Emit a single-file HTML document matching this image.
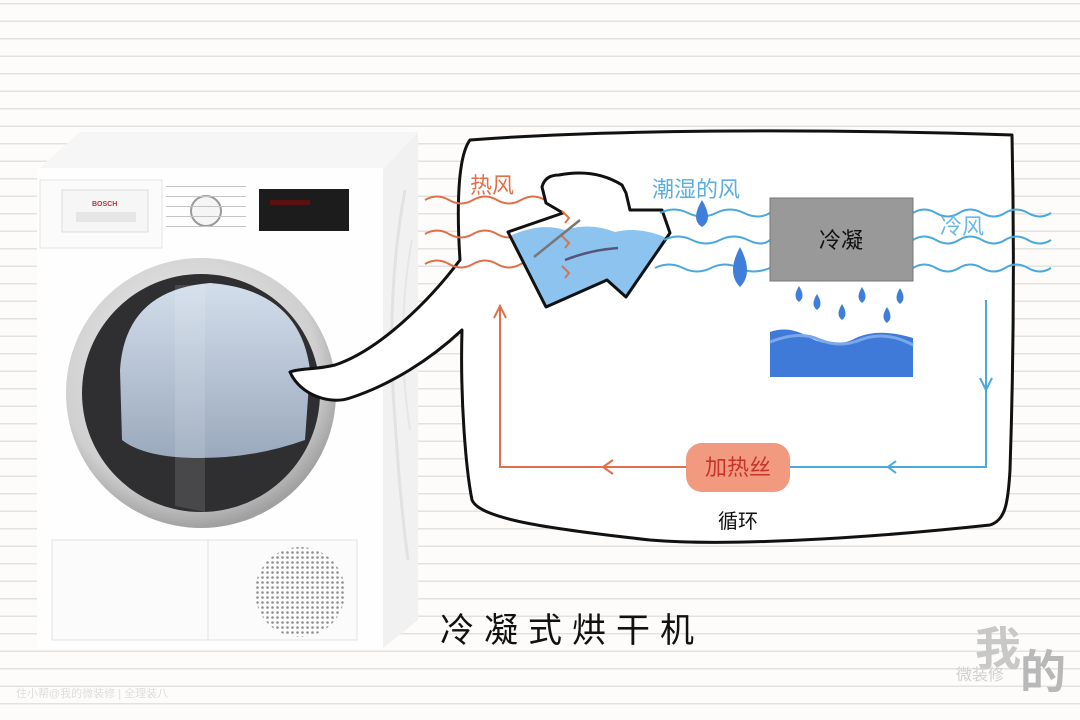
<!DOCTYPE html>
<html><head><meta charset="utf-8"><style>
html,body{margin:0;padding:0;width:1080px;height:720px;overflow:hidden;background:#fdfcfa}
svg{display:block}
text{font-family:"Liberation Sans","Noto Sans CJK SC",sans-serif}
</style></head><body>
<svg width="1080" height="720" viewBox="0 0 1080 720" xmlns="http://www.w3.org/2000/svg">
<defs>
<pattern id="ln" width="1080" height="17.5" patternUnits="userSpaceOnUse" y="3">
<rect width="1080" height="1.5" fill="#e2e2e0"/></pattern>
<radialGradient id="ring" cx="0.45" cy="0.4" r="0.6"><stop offset="0" stop-color="#f4f4f4"/><stop offset="0.8" stop-color="#cfcfcf"/><stop offset="1" stop-color="#a0a0a0"/></radialGradient>
<linearGradient id="glass" x1="0" y1="0" x2="0" y2="1"><stop offset="0" stop-color="#d3deec"/><stop offset="1" stop-color="#9aa9bc"/></linearGradient>
<pattern id="dots" width="5" height="5" patternUnits="userSpaceOnUse"><circle cx="2.5" cy="2.5" r="1.3" fill="#555"/></pattern>
</defs>
<rect width="1080" height="720" fill="url(#ln)"/>

<!-- machine -->
<polygon points="37,170 80,132 418,132 383,170" fill="#f6f6f6"/>
<polygon points="383,170 418,132 418,620 383,648" fill="#f1f1f1"/>
<path d="M405,190 Q385,300 395,420 Q400,500 408,560" stroke="#e2e2e2" stroke-width="3" fill="none"/>
<path d="M412,240 Q395,330 410,430" stroke="#e6e6e6" stroke-width="2" fill="none"/>
<rect x="37" y="168" width="346" height="480" fill="#fefefe"/>
<rect x="40" y="180" width="122" height="68" fill="#fbfbfb" stroke="#e4e4e4"/>
<rect x="62" y="190" width="86" height="42" fill="#f6f6f6" stroke="#ddd"/>
<rect x="76" y="212" width="60" height="10" fill="#e6e6e6"/>
<text x="92" y="206" font-size="7" fill="#b83040" font-weight="bold">BOSCH</text>
<circle cx="206" cy="211" r="15" fill="#f5f5f5" stroke="#999" stroke-width="2"/>
<rect x="259" y="189" width="90" height="42" fill="#1c1c1c"/>
<rect x="270" y="200" width="40" height="5" fill="#5a1010"/>
<g fill="#c4c4c4"><rect x="166" y="186" width="80" height="1"/><rect x="166" y="196" width="80" height="1"/><rect x="166" y="206" width="80" height="1"/><rect x="166" y="216" width="80" height="1"/><rect x="166" y="226" width="80" height="1"/></g>
<circle cx="201" cy="393" r="135" fill="url(#ring)"/>
<circle cx="201" cy="393" r="119" fill="#2f2f31"/>
<path d="M120,370 Q125,290 210,283 Q300,290 310,370 L305,440 Q255,458 200,458 Q145,458 122,440 Z" fill="url(#glass)"/>
<path d="M175,285 L205,285 L205,512 L175,506 Z" fill="#fff" opacity="0.12"/>
<rect x="52" y="540" width="305" height="100" fill="#fbfbfb" stroke="#e2e2e2"/>
<line x1="208" y1="540" x2="208" y2="640" stroke="#e2e2e2"/>
<circle cx="300" cy="592" r="45" fill="url(#dots)" opacity="0.65"/>

<!-- bubble -->
<path d="M290,372 C300,395 330,405 350,398 C390,385 430,360 462,330 C460,400 466,470 472,500 C480,520 560,530 650,540 C720,546 850,540 990,525 C1005,520 1008,505 1010,470 C1014,350 1014,230 1012,135 C800,128 600,130 470,140 C455,160 458,230 460,260 C430,300 380,350 335,365 C315,370 300,368 290,372 Z" fill="#fff" stroke="#111" stroke-width="3" stroke-linejoin="round"/>

<!-- hot air -->
<g stroke="#e0704a" stroke-width="2" fill="none">
<path d="M425,200 q12,-7 24,0 t24,0 t24,0 t24,0 t24,0 t24,2"/>
<path d="M425,234 q12,-7 24,0 t24,0 t24,0 t24,0 t24,0 t24,2"/>
<path d="M425,264 q12,-7 24,0 t24,0 t24,0 t24,0 t24,0 t24,2"/>
</g>
<text x="470" y="193" font-size="22" fill="#e0704a">热风</text>

<!-- cloth -->
<path d="M542,187 Q545,175 559,175 Q595,168 622,185 L626,193 L630,210 L662,210 L670,233 L626,297 L607,280 L546,307 L508,232 L563,213 L546,203 Z" fill="#fff"/>
<path d="M510,236 Q540,222 565,230 Q590,222 615,232 Q640,226 667,238 L626,297 L607,280 L546,307 Z" fill="#8cc3ef"/>
<path d="M542,187 Q545,175 559,175 Q595,168 622,185 L626,193 L630,210 L662,210 L670,233 L626,297 L607,280 L546,307 L508,232 L563,213 L546,203 Z" fill="none" stroke="#111" stroke-width="3" stroke-linejoin="round"/>
<path d="M534,257 Q555,240 580,220" stroke="#777" stroke-width="2.5" fill="none"/>
<path d="M565,260 Q590,250 618,248" stroke="#557" stroke-width="2.5" fill="none"/>
<g stroke="#e0704a" stroke-width="2" fill="none"><path d="M562,211 l7,7 -4,5"/><path d="M562,236 l7,7 -4,5"/><path d="M562,266 l7,7 -4,5"/></g>

<!-- humid air -->
<g stroke="#4aa8dc" stroke-width="2" fill="none">
<path d="M660,213 q14,-7 28,0 t28,0 t28,0 t26,0"/>
<path d="M664,240 q14,-7 28,0 t28,0 t28,0 t22,0"/>
<path d="M655,268 q14,-7 28,0 t28,0 t28,0 t31,0"/>
<path d="M913,213 q11,-7 23,0 t23,0 t23,0 t23,0 t23,0 t23,0"/>
<path d="M913,240 q11,-7 23,0 t23,0 t23,0 t23,0 t23,0 t23,0"/>
<path d="M913,268 q11,-7 23,0 t23,0 t23,0 t23,0 t23,0 t23,0"/>
</g>
<text x="652" y="197" font-size="22" fill="#5aaee0">潮湿的风</text>
<text x="940" y="234" font-size="22" fill="#6ab8e6">冷风</text>
<g fill="#3f7fd9">
<path d="M702,200 q-12,20 0,27 q12,-7 0,-27z"/>
<path d="M740,247 q-14,26 0,40 q14,-14 0,-40z"/>
</g>
<rect x="770" y="198" width="143" height="83" fill="#999" stroke="#777"/>
<text x="841" y="248" font-size="22" fill="#111" text-anchor="middle">冷凝</text>
<g fill="#3f7fd9">
<path d="M799,286 q-7,11 0,16 q7,-5 0,-16z"/>
<path d="M817,294 q-7,11 0,16 q7,-5 0,-16z"/>
<path d="M842,304 q-7,11 0,16 q7,-5 0,-16z"/>
<path d="M862,287 q-7,11 0,16 q7,-5 0,-16z"/>
<path d="M887,307 q-7,11 0,16 q7,-5 0,-16z"/>
<path d="M900,288 q-7,11 0,16 q7,-5 0,-16z"/>
</g>
<path d="M770,332 Q790,325 810,338 Q835,350 858,337 Q880,328 913,338 L913,377 L770,377 Z" fill="#3f7ad9"/>
<path d="M770,342 Q800,330 820,340 Q840,348 860,340 Q885,330 913,345" stroke="#7aa8ea" stroke-width="3" fill="none"/>

<!-- cycle -->
<path d="M986,300 V467 H787" stroke="#4aa8dc" stroke-width="2" fill="none"/>
<path d="M980,378 l6,12 6,-12 M896,461 l-8,6 8,6" stroke="#4aa8dc" stroke-width="2" fill="none"/>
<path d="M686,467 H500 V305" stroke="#e0704a" stroke-width="2" fill="none"/>
<path d="M494,318 l6,-12 6,12 M613,460 l-10,7 10,7" stroke="#e0704a" stroke-width="2" fill="none"/>
<rect x="686" y="443" width="104" height="49" rx="16" fill="#f29a80"/>
<text x="738" y="475" font-size="22" fill="#c8342a" text-anchor="middle">加热丝</text>
<text x="738" y="528" font-size="20" fill="#111" text-anchor="middle">循环</text>

<text x="440" y="642" font-size="34" fill="#111" letter-spacing="10">冷凝式烘干机</text>
<text x="975" y="665" font-size="46" fill="#c8c8c8" font-weight="bold">我</text>
<text x="1020" y="688" font-size="46" fill="#b8b8b8" font-weight="bold">的</text>
<text x="956" y="680" font-size="16" fill="#d0d0d0">微装修</text>
<text x="16" y="697" font-size="11" fill="#ddd">住小帮@我的微装修 | 全理装八</text>
</svg>
</body></html>
